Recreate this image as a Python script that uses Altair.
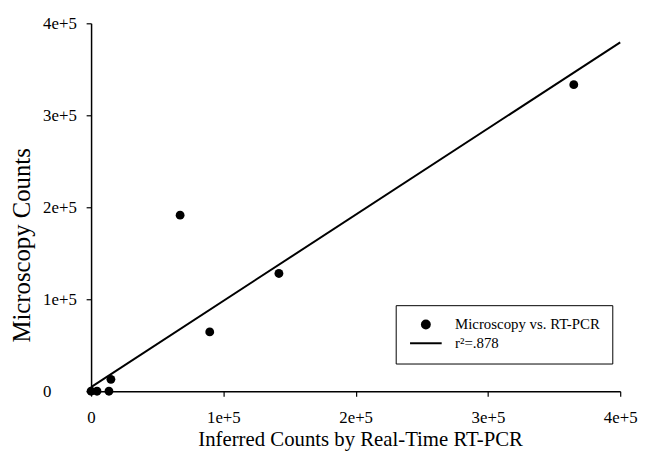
import altair as alt
import pandas as pd

# Data
pcr_counts = [0, 4500, 13500, 15000, 67300, 89700, 142000, 364900]
micro_counts = [0, 0, 0, 12900, 191400, 64500, 128000, 333300]
fit_x = [0, 400000]
fit_y = [4500, 379300]
series_names = ["Microscopy vs. RT-PCR", "r\u00b2=.878"]
tick_values = [0, 100000, 200000, 300000, 400000]

pts = pd.DataFrame({"x": pcr_counts, "y": micro_counts, "series": series_names[0]})
fit = pd.DataFrame({"x": fit_x, "y": fit_y})

FONT = "Liberation Serif"
label_expr = "datum.value == 0 ? '0' : format(datum.value/100000, 'd') + 'e+5'"

xscale = alt.Scale(domain=[0, 400000], nice=False, zero=True)
yscale = alt.Scale(domain=[0, 400000], nice=False, zero=True)

common = dict(grid=False, tickSize=5, domainColor="black", domainWidth=1.5,
              tickColor="black", tickWidth=1.2,
              labelFont=FONT, labelFontSize=17, labelColor="black",
              titleFont=FONT, titleFontWeight="normal", titleColor="black")

xaxis = alt.Axis(values=tick_values, labelExpr=label_expr, title="Inferred Counts by Real-Time RT-PCR",
                 labelPadding=14, labelFlush=False,
                 titleFontSize=21, titleX=272, titleY=49, titleAlign="center", titleBaseline="middle",
                 **common)
yaxis = alt.Axis(values=tick_values, labelExpr=label_expr, title="Microscopy Counts",
                 labelPadding=44, labelAlign="left", labelFlush=False,
                 titleFontSize=25, titleX=-70, titleY=224, titleAngle=270,
                 titleAlign="center", titleBaseline="middle", **common)

line = alt.Chart(fit).mark_line(color="black", strokeWidth=2).encode(
    x=alt.X("x:Q", scale=xscale, axis=xaxis),
    y=alt.Y("y:Q", scale=yscale, axis=yaxis),
)

points = alt.Chart(pts).mark_point(filled=True, color="black", size=80, opacity=1).encode(
    x=alt.X("x:Q", scale=xscale, axis=xaxis),
    y=alt.Y("y:Q", scale=yscale, axis=yaxis),
    shape=alt.Shape("series:N",
                    scale=alt.Scale(domain=series_names,
                                    range=["circle", "M-3.2,-0.2H3.2V0.2H-3.2Z"]),
                    legend=alt.Legend(title=None, orient="none", legendX=308, legendY=285,
                                      strokeColor="black", fillColor="white", padding=12,
                                      labelFont=FONT, labelFontSize=15, labelColor="black",
                                      symbolSize=100, symbolFillColor="black",
                                      symbolStrokeWidth=0, symbolOffset=11,
                                      symbolOpacity=1, rowPadding=3, labelOffset=22)),
)

chart = alt.layer(line, points).properties(
    width=535, height=372,
    autosize=alt.AutoSizeParams(type="none"),
    padding={"left": 84, "top": 13, "right": 19, "bottom": 62},
).configure(
    style={"guide-label": {"font": FONT, "fontSize": 17, "fill": "black"}}
).configure_view(strokeWidth=0).configure_axis(
    labelFont=FONT, labelFontSize=17, labelColor="black"
)

chart.save("out.html", embed_options={"renderer": "svg", "actions": False})
